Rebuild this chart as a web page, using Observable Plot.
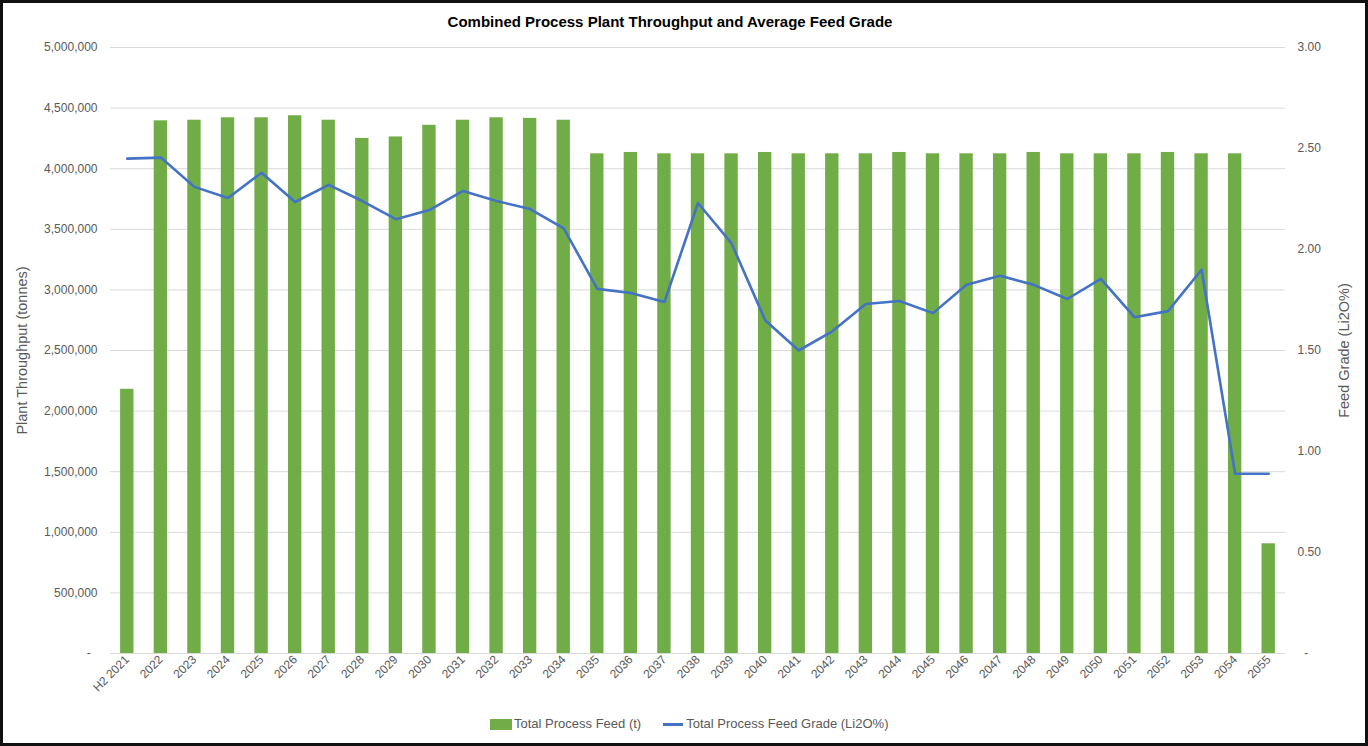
<!DOCTYPE html>
<html>
<head>
<meta charset="utf-8">
<script src="https://cdn.jsdelivr.net/npm/d3@7"></script>
<script src="https://cdn.jsdelivr.net/npm/@observablehq/plot@0.6"></script>
<style>
  html, body { margin: 0; padding: 0; background: #fff; overflow: hidden; }
  #frame { width: 1368px; height: 746px; box-sizing: border-box; border: 3px solid #111; background: #fff; font-family: "Liberation Sans", Arial, sans-serif; }
  #title { height: 32px; box-sizing: border-box; padding-top: 6px; line-height: 26px; font-size: 15px; font-weight: bold; color: #000; text-align: center; padding-right: 28px; }
  #chart svg { display: block; }
  #legend { height: 38px; line-height: 34px; display: flex; align-items: center; padding-left: 487px; font-size: 13px; color: #595959; }
  .sw-bar { width: 22px; height: 11px; background: #70AD47; margin-right: 2px; }
  .sw-line { width: 20px; height: 3px; background: #4472C4; margin-left: 22px; margin-right: 3px; }
</style>
</head>
<body>
<div id="frame">
  <div id="title">Combined Process Plant Throughput and Average Feed Grade</div>
  <div id="chart"></div>
  <div id="legend"><span class="sw-bar"></span><span>Total Process Feed (t)</span><span class="sw-line"></span><span>Total Process Feed Grade (Li2O%)</span></div>
</div>
<script>
const categories = ["H2 2021","2022","2023","2024","2025","2026","2027","2028","2029","2030","2031","2032","2033","2034","2035","2036","2037","2038","2039","2040","2041","2042","2043","2044","2045","2046","2047","2048","2049","2050","2051","2052","2053","2054","2055"];
const feedTonnes = [2180000, 4395000, 4400000, 4420000, 4420000, 4437000, 4400000, 4250000, 4262000, 4358000, 4400000, 4420000, 4415000, 4400000, 4123000, 4134000, 4123000, 4123000, 4123000, 4134000, 4123000, 4123000, 4123000, 4134000, 4123000, 4123000, 4123000, 4134000, 4123000, 4123000, 4123000, 4134000, 4123000, 4123000, 905000];
const feedGrade = [2.45, 2.455, 2.31, 2.255, 2.38, 2.235, 2.32, 2.24, 2.15, 2.195, 2.29, 2.24, 2.20, 2.105, 1.805, 1.785, 1.74, 2.23, 2.03, 1.65, 1.50, 1.595, 1.73, 1.745, 1.685, 1.825, 1.87, 1.825, 1.755, 1.855, 1.665, 1.695, 1.90, 0.89, 0.89];
const leftTicks = [0, 500000, 1000000, 1500000, 2000000, 2500000, 3000000, 3500000, 4000000, 4500000, 5000000];
const rightTicks = [0, 0.5, 1.0, 1.5, 2.0, 2.5, 3.0];
const leftMax = 5000000, rightMax = 3;
const k = leftMax / rightMax;

const data = categories.map((c, i) => ({cat: c, feed: feedTonnes[i], grade: feedGrade[i]}));

const chart = Plot.plot({
  width: 1362,
  height: 670,
  marginTop: 12,
  marginBottom: 52,
  marginLeft: 107,
  marginRight: 80,
  style: {fontFamily: "'Liberation Sans', Arial, sans-serif", fontSize: "12px", color: "#595959", background: "#fff"},
  x: {domain: categories, padding: 0, round: false, label: null},
  y: {domain: [0, leftMax], label: null},
  marks: [
    Plot.gridY(leftTicks, {stroke: "#D9D9D9", strokeOpacity: 1, strokeWidth: 1}),
    Plot.barY(data, {x: "cat", y: "feed", fill: "#70AD47", insetLeft: 10.1, insetRight: 10.1}),
    Plot.line(data, {x: "cat", y: d => d.grade * k, stroke: "#4472C4", strokeWidth: 2.6, strokeLinejoin: "round"}),
    Plot.axisY({ticks: leftTicks, tickFormat: d => d === 0 ? "-\u00a0\u00a0" : d3.format(",")(d), tickSize: 0, tickPadding: 13, fontSize: 12, fill: "#595959", label: null}),
    Plot.axisY({anchor: "right", ticks: rightTicks.map(g => g * k), tickFormat: d => d === 0 ? "\u00a0\u00a0-" : (d / k).toFixed(2), tickSize: 0, tickPadding: 12, fontSize: 12, fill: "#595959", label: null}),
    Plot.axisX({tickRotate: -45, tickSize: 0, tickPadding: 4, fontSize: 12, fill: "#595959", label: null}),
    Plot.text(["Plant Throughput (tonnes)"], {frameAnchor: "left", dx: -88, rotate: -90, textAnchor: "middle", lineAnchor: "middle", fontSize: 14.5, fill: "#595959"}),
    Plot.text(["Feed Grade (Li2O%)"], {frameAnchor: "right", dx: 59, rotate: -90, textAnchor: "middle", lineAnchor: "middle", fontSize: 14.5, fill: "#595959"})
  ]
});
document.getElementById("chart").appendChild(chart);
</script>
</body>
</html>
